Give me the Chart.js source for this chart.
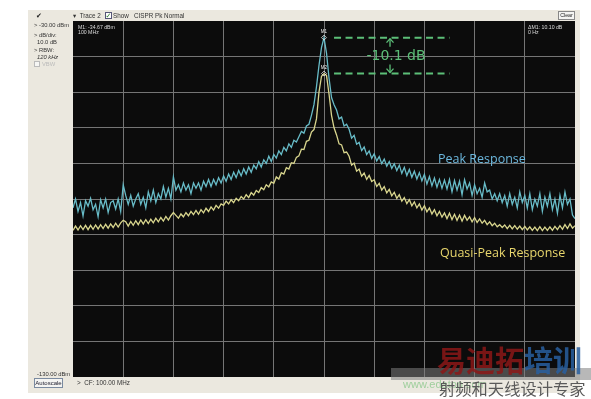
<!DOCTYPE html>
<html><head><meta charset="utf-8">
<script src="https://cdn.jsdelivr.net/npm/chart.js@4"></script>
<style>html,body{margin:0;padding:0;background:#fff;}canvas{display:block;}</style>
</head><body>
<canvas id="c" width="591" height="399"></canvas>
<script>
// Sweep: 201 trace points across 10 horizontal divisions, CF = 100 MHz at point 100
const yTop = -30, yBottom = -130, dbPerDiv = 10;
const peakLeft = [
-82.5,-80.0,-83.5,-81.0,-84.8,-80.5,-82.0,-79.8,-83.0,-81.5,
-85.0,-80.2,-82.5,-80.0,-83.8,-81.0,-80.5,-82.8,-80.0,-83.5,
-76.0,-79.0,-81.5,-79.0,-82.0,-80.0,-78.5,-81.5,-79.5,-82.5,
-78.0,-80.5,-77.5,-81.0,-78.5,-80.0,-76.5,-79.5,-77.0,-80.0,
-73.8,-77.5,-76.0,-78.0,-75.5,-77.5,-76.0,-78.5,-75.5,-77.0,
-75.5,-77.5,-75.0,-76.5,-74.5,-76.5,-74.5,-76.0,-74.0,-75.5,
-73.5,-75.0,-73.0,-74.5,-72.5,-74.0,-72.0,-73.5,-71.5,-73.0,
-71.0,-72.5,-70.5,-71.5,-69.5,-71.0,-69.0,-70.0,-68.0,-69.5,
-67.5,-68.5,-66.5,-67.5,-65.5,-66.5,-64.5,-65.5,-63.5,-64.0,
-62.5,-61.0,-61.5,-59.5,-59.0,-56.5,-53.5,-48.5,-42.5,-37.5];
const peakTop = -34.67;
const peakRight = [
-39.0,-46.0,-51.5,-53.5,-55.0,-57.5,-57.0,-59.5,-59.0,
-60.4,-62.9,-62.1,-64.6,-64.1,-66.4,-65.4,-67.5,-66.5,-68.6,
-67.3,-69.3,-68.1,-70.1,-68.8,-70.8,-69.5,-71.4,-70.1,-72.0,
-70.5,-72.8,-71.1,-73.4,-71.7,-73.9,-72.2,-74.4,-72.6,-74.9,
-73.1,-75.8,-73.7,-76.3,-74.1,-76.7,-74.5,-77.0,-74.7,-77.2,
-74.5,-78.0,-74.8,-77.5,-75.0,-78.8,-74.6,-77.2,-75.5,-79.0,
-76.0,-78.5,-77.0,-79.5,-75.5,-78.0,-77.5,-80.0,-78.5,-80.5,
-78.5,-81.0,-79.0,-82.0,-78.5,-81.5,-79.5,-82.5,-78.0,-81.0,
-79.0,-82.5,-78.5,-83.0,-80.0,-82.0,-78.5,-83.5,-79.5,-82.0,
-78.5,-83.0,-80.0,-84.0,-79.0,-82.5,-78.0,-81.5,-80.0,-84.5,
-85.5];
const qpLeft = [
-88.8,-87.6,-88.7,-87.5,-88.6,-87.4,-88.6,-87.4,-88.5,-87.3,
-88.4,-87.2,-88.3,-87.1,-88.2,-87.0,-88.0,-86.8,-87.9,-86.7,
-86.0,-86.4,-87.6,-86.3,-87.4,-86.1,-87.2,-85.9,-87.0,-85.8,
-86.9,-85.7,-86.7,-85.4,-86.4,-85.2,-86.2,-84.9,-85.9,-84.7,
-83.8,-84.6,-85.4,-84.2,-85.0,-83.8,-84.7,-83.5,-84.4,-83.2,
-84.3,-83.0,-83.9,-82.6,-83.5,-82.2,-83.1,-81.8,-82.6,-81.4,
-81.8,-80.6,-81.4,-80.2,-81.0,-79.8,-80.5,-79.3,-80.0,-78.8,
-79.6,-78.2,-78.9,-77.6,-78.2,-76.8,-77.4,-76.0,-76.6,-75.2,
-75.6,-73.8,-74.4,-72.6,-73.0,-71.2,-71.6,-69.8,-70.0,-68.3,
-67.9,-66.0,-66.1,-63.8,-63.5,-61.2,-60.5,-57.5,-50.0,-45.5];
const qpTop = -44.77;
const qpRight = [
-45.3,-50.5,-56.5,-60.0,-62.0,-64.5,-64.8,-67.0,-66.8,
-68.0,-70.5,-69.9,-72.2,-71.6,-73.6,-72.7,-74.5,-73.4,-75.1,
-74.6,-76.5,-75.6,-77.5,-76.5,-78.3,-77.3,-79.1,-78.1,-79.8,
-78.8,-80.6,-79.6,-81.3,-80.2,-81.9,-80.8,-82.5,-81.4,-83.1,
-81.9,-83.6,-82.5,-84.2,-83.0,-84.7,-83.5,-85.1,-83.9,-85.5,
-84.0,-85.8,-84.3,-86.0,-84.5,-86.2,-84.6,-86.0,-85.0,-86.4,
-85.2,-86.6,-85.6,-86.8,-86.0,-87.2,-86.4,-87.5,-86.8,-87.8,
-87.2,-88.0,-87.3,-88.3,-87.4,-88.4,-87.5,-88.5,-87.6,-88.6,
-87.7,-88.7,-87.8,-88.8,-87.9,-88.9,-87.8,-88.9,-87.9,-88.8,
-87.8,-88.8,-87.7,-88.6,-87.5,-88.5,-87.2,-88.3,-87.0,-88.2,
-87.5];
const markerNames = ['M1','M2'];
const markerValues = [peakTop, qpTop];
const deltaLabel = '-10.1 dB';

const peak = peakLeft.concat([peakTop], peakRight);
const qp = qpLeft.concat([qpTop], qpRight);
const lastIdx = peak.length - 1;
const centerIdx = peakLeft.length;
const toXY = arr => arr.map((v,i)=>({x:i,y:v}));

const GREEN = '#5cbf78';
function txt(ctx, s, x, y, font, color, align){
  ctx.font = font; ctx.fillStyle = color; ctx.textAlign = align||'left'; ctx.textBaseline='middle';
  ctx.fillText(s, x, y);
}
function box(ctx, x, y, w, h, fill, stroke){
  ctx.fillStyle = fill; ctx.fillRect(x,y,w,h);
  ctx.strokeStyle = stroke; ctx.lineWidth = 1; ctx.strokeRect(x+0.5,y+0.5,w-1,h-1);
}

const frame = {
  id:'frame',
  beforeDraw(chart){
    const {ctx, chartArea:a} = chart;
    ctx.save();
    ctx.fillStyle = '#ffffff'; ctx.fillRect(0,0,chart.width,chart.height);
    ctx.fillStyle = '#ebe8df'; ctx.fillRect(a.left-45, a.top-11, a.right-a.left+50, a.bottom-a.top+27);
    ctx.fillStyle = '#0c0c0c'; ctx.fillRect(a.left, a.top, a.right-a.left, a.bottom-a.top);
    ctx.restore();
  },
  afterDatasetsDraw(chart){
    const {ctx, chartArea:a, scales:{x, y}} = chart;
    ctx.save();
    const UI = '6.3px "Liberation Sans", "DejaVu Sans", sans-serif';
    const UIS = '5.8px "Liberation Sans", "DejaVu Sans", sans-serif';
    const SM = '5.2px "Liberation Sans", "DejaVu Sans", sans-serif';
    // top bar
    txt(ctx, '\u2714', a.left-37, a.top-5, 'bold 7px "DejaVu Sans"', '#222');
    txt(ctx, '\u25BE  Trace 2', a.left, a.top-5, UI, '#333');
    box(ctx, a.left+32, a.top-9, 7, 7, '#fff', '#557');
    txt(ctx, '\u2713', a.left+32.5, a.top-5, 'bold 7px "DejaVu Sans"', '#2a7a2a');
    txt(ctx, 'Show   CISPR Pk Normal', a.left+40, a.top-5, UI, '#333');
    box(ctx, a.right-17, a.top-10, 17, 9, '#f4f4f2', '#888');
    txt(ctx, 'Clear', a.right-8.5, a.top-5.5, '5.3px "Liberation Sans"', '#222', 'center');
    // left panel
    const lx = a.left-39;
    txt(ctx, '> -30.00 dBm', lx, a.top+4, UIS, '#333');
    txt(ctx, '> dB/div:', lx, a.top+14, UIS, '#333');
    txt(ctx, '10.0 dB', lx+3, a.top+21, UIS, '#333');
    txt(ctx, '> RBW:', lx, a.top+29, UIS, '#333');
    txt(ctx, '120 kHz', lx+3, a.top+36, 'italic 5.8px "Liberation Sans"', '#333');
    box(ctx, lx, a.top+40, 6, 6, '#f6f6f4', '#bbb');
    txt(ctx, 'VBW', lx+8, a.top+43, UIS, '#bbb');
    txt(ctx, '-130.00 dBm', a.left-36, a.bottom-3, UIS, '#333');
    box(ctx, a.left-39, a.bottom+1, 29, 10, '#f4f4f2', '#7a8aa0');
    txt(ctx, 'Autoscale', a.left-24.5, a.bottom+6, '6px "Liberation Sans"', '#223', 'center');
    txt(ctx, '>  CF: 100.00 MHz', a.left+4, a.bottom+6, UI, '#333');
    // readouts
    txt(ctx, 'M1: -34.67 dBm', a.left+5, a.top+7, SM, '#ddd');
    txt(ctx, '100 MHz', a.left+5, a.top+12, SM, '#ddd');
    txt(ctx, '\u0394M1: 10.10 dB', a.right-47, a.top+7, SM, '#ddd');
    txt(ctx, '0 Hz', a.right-47, a.top+12, SM, '#ddd');
    // markers
    const cx = x.getPixelForValue(centerIdx);
    markerValues.forEach((v,k)=>{
      const py = y.getPixelForValue(v);
      ctx.strokeStyle = '#e8e8e8'; ctx.lineWidth = 0.8;
      ctx.beginPath(); ctx.moveTo(cx,py-2.5); ctx.lineTo(cx+2.5,py); ctx.lineTo(cx,py+2.5); ctx.lineTo(cx-2.5,py); ctx.closePath(); ctx.stroke();
      txt(ctx, markerNames[k], cx, py-6, '4.5px "Liberation Sans"', '#eee', 'center');
      ctx.strokeStyle = GREEN; ctx.lineWidth = 2; ctx.setLineDash([7,4.5]);
      ctx.beginPath(); ctx.moveTo(x.getPixelForValue(104), py); ctx.lineTo(x.getPixelForValue(150), py); ctx.stroke();
      ctx.setLineDash([]);
    });
    // delta annotation
    const ax = x.getPixelForValue(126.3);
    const y1 = y.getPixelForValue(markerValues[0]), y2 = y.getPixelForValue(markerValues[1]);
    const ym = (y1+y2)/2;
    ctx.strokeStyle = GREEN; ctx.lineWidth = 1.3;
    ctx.beginPath(); ctx.moveTo(ax, y1+1); ctx.lineTo(ax, y1+9); ctx.stroke();
    ctx.beginPath(); ctx.moveTo(ax-3.5, y1+5); ctx.lineTo(ax, y1+1); ctx.lineTo(ax+3.5, y1+5); ctx.stroke();
    ctx.beginPath(); ctx.moveTo(ax, y2-1); ctx.lineTo(ax, y2-9); ctx.stroke();
    ctx.beginPath(); ctx.moveTo(ax-3.5, y2-5); ctx.lineTo(ax, y2-1); ctx.lineTo(ax+3.5, y2-5); ctx.stroke();
    txt(ctx, deltaLabel, ax+6, ym+1, '14px "DejaVu Sans", sans-serif', GREEN, 'center');
    // series labels
    txt(ctx, 'Peak Response', a.left+365, a.top+138, '12.5px "Open Sans", sans-serif', '#6cb8de');
    txt(ctx, 'Quasi-Peak Response', a.left+367, a.top+232, '12.5px "Open Sans", sans-serif', '#e8d66c');
    // watermark
    ctx.fillStyle = 'rgba(125,125,125,0.55)';
    ctx.fillRect(a.left+318, a.bottom-9, chart.width-(a.left+318), 12);
    txt(ctx, 'www.edatop.com', a.left+330, a.bottom+8, '11px "Liberation Sans"', 'rgba(140,200,140,0.8)');
    txt(ctx, '\u6613\u8FEA\u62D3', a.left+364, a.bottom-16, 'bold 29px "Noto Sans CJK SC"', 'rgba(140,24,24,0.85)');
    txt(ctx, '\u57F9\u8BAD', a.left+451, a.bottom-16, 'bold 29px "Noto Sans CJK SC"', 'rgba(40,95,160,0.85)');
    txt(ctx, '\u5C04\u9891\u548C\u5929\u7EBF\u8BBE\u8BA1\u4E13\u5BB6', a.left+366, a.bottom+12, '16.3px "Noto Sans CJK SC"', '#5a5a5a');
    ctx.restore();
  }
};

const gridColor = ctx => (ctx.tick && (ctx.tick.value === 0 || ctx.tick.value === lastIdx || ctx.tick.value === yTop || ctx.tick.value === yBottom)) ? 'rgba(0,0,0,0)' : '#757575';

new Chart(document.getElementById('c'), {
  type: 'line',
  data: { datasets: [
    { label:'Peak Response', data: toXY(peak), borderColor:'#68bcc8', borderWidth:1.3, pointRadius:0, tension:0, order:1 },
    { label:'Quasi-Peak Response', data: toXY(qp), borderColor:'#d9d68e', borderWidth:1.3, pointRadius:0, tension:0, order:2 }
  ]},
  options: {
    responsive:false, animation:false, devicePixelRatio:1,
    layout:{ padding:{ left:73, top:21, right:16, bottom:22 } },
    plugins:{ legend:{display:false}, tooltip:{enabled:false} },
    scales:{
      x:{ type:'linear', min:0, max:lastIdx, ticks:{ display:false, stepSize: lastIdx/10 },
          grid:{ color:gridColor, drawTicks:false, lineWidth:1 }, border:{display:false} },
      y:{ type:'linear', min:yBottom, max:yTop, ticks:{ display:false, stepSize:dbPerDiv },
          grid:{ color:gridColor, drawTicks:false, lineWidth:1 }, border:{display:false} }
    }
  },
  plugins:[frame]
});
</script>
</body></html>
